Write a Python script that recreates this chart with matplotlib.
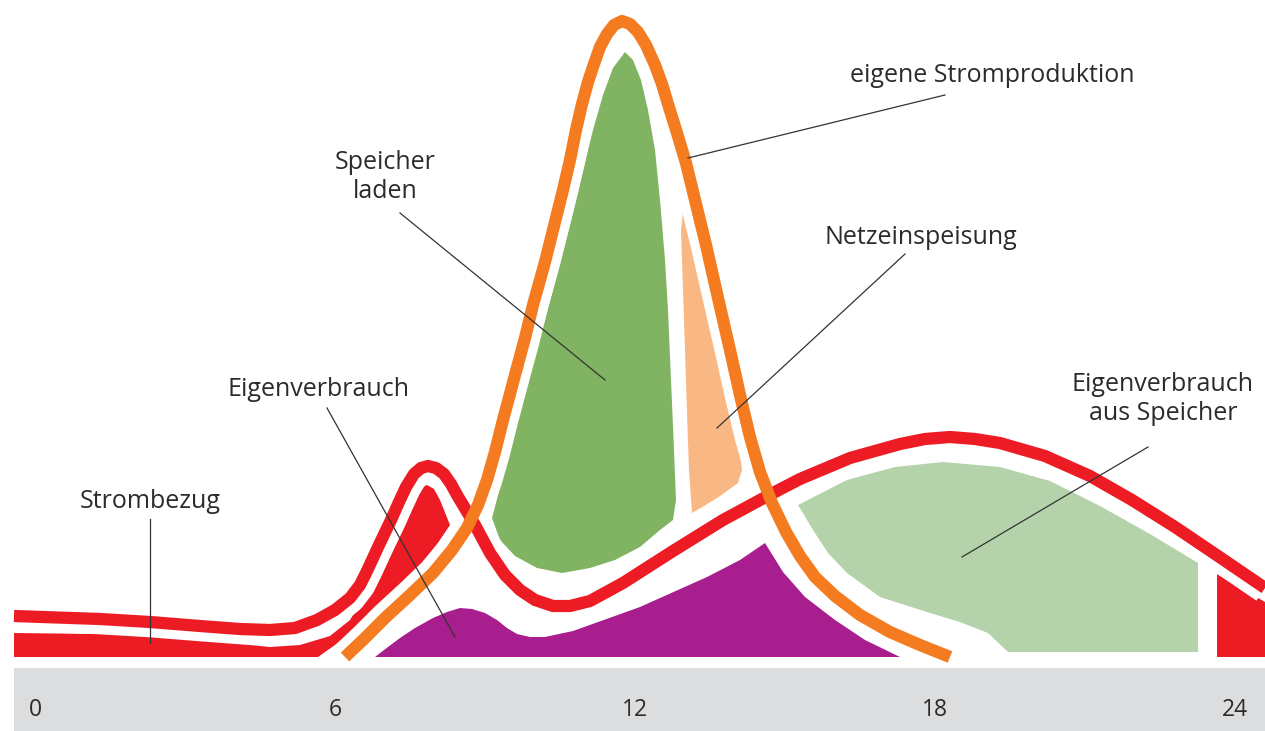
import matplotlib
matplotlib.use("Agg")
import matplotlib.pyplot as plt

plt.rcParams["font.family"] = ["Open Sans", "DejaVu Sans"]

# =========================================================
# DATA  (x = hour of day, y = power, arbitrary units)
# =========================================================

tick_hours = [0, 6, 12, 18, 24]
tick_labels = ["0", "6", "12", "18", "24"]

# eigene Stromproduktion (orange curve)
prod_h = [6.20, 6.60, 7.00, 7.50, 7.96, 8.34, 8.64, 8.86, 9.04, 9.20, 9.36,
          9.60, 9.80, 9.96, 10.20, 10.40, 10.56, 10.70, 10.82, 10.94, 11.06,
          11.18, 11.30, 11.44, 11.58, 11.74, 11.90, 12.06, 12.22, 12.40, 12.54,
          12.66, 12.84, 13.02, 13.20, 13.42, 13.66, 13.90, 14.10, 14.30, 14.50,
          14.74, 15.02, 15.30, 15.60, 16.00, 16.50, 17.10, 17.70, 18.30]
prod_kw = [0.00, 0.19, 0.39, 0.62, 0.84, 1.07, 1.29, 1.52, 1.77, 2.05, 2.37,
           2.82, 3.19, 3.52, 3.95, 4.35, 4.67, 4.97, 5.27, 5.53, 5.75,
           5.93, 6.10, 6.23, 6.32, 6.36, 6.33, 6.25, 6.12, 5.92, 5.73,
           5.53, 5.24, 4.94, 4.57, 4.12, 3.59, 3.07, 2.62, 2.20, 1.85,
           1.54, 1.25, 1.01, 0.80, 0.61, 0.42, 0.25, 0.12, 0.00]

# Verbrauch (red curve)
cons_h = [-0.42, 1.30, 2.30, 3.30, 4.10, 4.70, 5.20, 5.64, 6.00, 6.30, 6.50,
          6.64, 6.88, 7.12, 7.28, 7.42, 7.58, 7.72, 7.86, 8.02, 8.18, 8.32,
          8.44, 8.62, 8.80, 9.10, 9.40, 9.70, 10.00, 10.36, 10.70, 11.10,
          11.76, 12.76, 13.76, 14.76, 15.30, 16.30, 17.30, 17.80, 18.30, 18.80,
          19.30, 20.20, 21.10, 21.94, 22.80, 23.66, 24.60]
cons_kw = [0.41, 0.38, 0.35, 0.31, 0.28, 0.27, 0.29, 0.37, 0.47, 0.59, 0.72,
           0.86, 1.12, 1.37, 1.55, 1.70, 1.83, 1.89, 1.91, 1.89, 1.83, 1.73,
           1.62, 1.47, 1.32, 1.04, 0.82, 0.67, 0.57, 0.51, 0.51, 0.56,
           0.74, 1.06, 1.37, 1.64, 1.78, 1.99, 2.13, 2.18, 2.20, 2.18,
           2.14, 2.01, 1.81, 1.57, 1.30, 1.01, 0.69]

# Strombezug morgens (red area)
bezug_am_h = [-0.42, 1.30, 2.30, 3.30, 4.70, 5.30, 5.90, 6.30, 6.60, 6.90, 7.20,
              7.50, 7.70, 7.84, 7.98, 8.10, 8.30, 7.90, 7.50, 7.00, 6.50, 6.00,
              5.66, -0.42]
bezug_am_kw = [0.24, 0.23, 0.21, 0.17, 0.10, 0.12, 0.21, 0.37, 0.62, 0.97, 1.32,
               1.59, 1.69, 1.72, 1.68, 1.57, 1.32, 1.02, 0.80, 0.55, 0.32, 0.12,
               0.00, 0.00]

# Strombezug abends (red area)
bezug_pm_h = [23.64, 24.60, 24.60, 23.64]
bezug_pm_kw = [0.83, 0.55, 0.00, 0.00]

# Eigenverbrauch (purple area)
eigen_h = [6.80, 7.06, 7.30, 7.60, 7.96, 8.24, 8.50, 8.74, 9.00, 9.24, 9.44,
           9.64, 9.90, 10.20, 10.76, 12.10, 13.44, 14.10, 14.60, 14.96, 15.40,
           16.00, 16.60, 17.30]
eigen_kw = [0.00, 0.10, 0.19, 0.29, 0.39, 0.45, 0.49, 0.48, 0.44, 0.37, 0.29,
            0.23, 0.20, 0.20, 0.26, 0.50, 0.80, 0.97, 1.14, 0.85, 0.60,
            0.37, 0.17, 0.00]

# Speicher laden (green area)
laden_h = [11.80, 11.96, 12.12, 12.26, 12.40, 12.50, 12.60, 12.66, 12.72, 12.78,
           12.82, 12.76, 12.50, 12.10, 11.60, 11.10, 10.54, 10.04, 9.60, 9.30,
           9.14, 9.34, 9.60, 9.90, 10.20, 10.44, 10.70, 10.94, 11.16, 11.36, 11.56]
laden_kw = [6.05, 5.97, 5.77, 5.47, 5.07, 4.57, 3.97, 3.47, 2.77, 2.07,
            1.57, 1.37, 1.27, 1.10, 0.97, 0.89, 0.84, 0.89, 1.01, 1.17,
            1.39, 1.77, 2.27, 2.87, 3.37, 3.82, 4.32, 4.82, 5.27, 5.62, 5.89]

# Netzeinspeisung (salmon area)
einsp_h = [12.96, 13.06, 13.18, 13.32, 13.48, 13.64, 13.80, 13.96, 14.08, 14.14,
           14.06, 13.70, 13.38, 13.14, 13.08, 13.04, 13.00, 12.96, 12.92]
einsp_kw = [4.45, 4.39, 4.12, 3.77, 3.44, 3.10, 2.77, 2.44, 2.12, 1.87,
            1.74, 1.61, 1.51, 1.44, 1.87, 2.44, 3.07, 3.67, 4.27]

# Eigenverbrauch aus Speicher (light green area)
speicher_h = [15.26, 16.24, 17.20, 18.16, 19.30, 20.30, 21.30, 22.30, 23.26, 23.26,
              19.46, 19.06, 18.50, 17.90, 16.90, 16.24, 15.86, 15.56]
speicher_kw = [1.52, 1.77, 1.90, 1.95, 1.90, 1.76, 1.51, 1.23, 0.94, 0.05,
               0.05, 0.24, 0.35, 0.44, 0.60, 0.84, 1.04, 1.27]

# labels: text, anchor of text, leader start, leader end
labels = ["eigene Stromproduktion", "Speicher\nladen", "Netzeinspeisung",
          "Eigenverbrauch", "Eigenverbrauch\naus Speicher", "Strombezug"]
label_pos = [(19.14, 5.82), (7.00, 4.80), (17.72, 4.19),
             (5.68, 2.67), (22.56, 2.58), (2.30, 1.55)]
leader_from = [(18.20, 5.62), (7.30, 4.44), (17.40, 4.03),
               (5.84, 2.49), (22.26, 2.10), (2.30, 1.38)]
leader_to = [(13.06, 4.99), (11.40, 2.77), (13.64, 2.29),
             (8.40, 0.20), (18.54, 1.00), (2.30, 0.14)]

# =========================================================
# STYLE
# =========================================================

RED = "#ED1C24"
ORANGE = "#F47B20"
GREEN = "#80B463"
SALMON = "#F9B784"
PURPLE = "#A81E8F"
LIGHTGREEN = "#B5D3AA"
BAND = "#DCDDDE"
TEXT = "#2B2B2B"

LW = 8.8      # ~12 px
HALO = 22.0   # white gap around the curves

# =========================================================
# PLOT
# =========================================================

fig = plt.figure(figsize=(12.65, 7.31), dpi=100)
ax = fig.add_axes([0, 0, 1, 1])
ax.set_xlim(-0.70, 24.60)
ax.set_ylim(-0.74, 6.57)
ax.set_axis_off()

# areas
ax.fill(bezug_am_h, bezug_am_kw, color=RED, lw=0, zorder=1)
ax.fill(bezug_pm_h, bezug_pm_kw, color=RED, lw=0, zorder=1)
ax.fill(eigen_h, eigen_kw, color=PURPLE, lw=0, zorder=1)
ax.fill(laden_h, laden_kw, color=GREEN, lw=0, zorder=1)
ax.fill(einsp_h, einsp_kw, color=SALMON, lw=0, zorder=1)
ax.fill(speicher_h, speicher_kw, color=LIGHTGREEN, lw=0, zorder=1)

# white halos, then the curves (orange on top of red)
ax.plot(cons_h, cons_kw, color="white", lw=HALO, solid_joinstyle="round",
        solid_capstyle="butt", zorder=2)
ax.plot(prod_h, prod_kw, color="white", lw=HALO, solid_joinstyle="round",
        solid_capstyle="butt", zorder=2)

# time axis band
ax.fill_between([-0.42, 24.60], -0.74, -0.11, color=BAND, lw=0, zorder=3)

ax.plot(cons_h, cons_kw, color=RED, lw=LW, solid_joinstyle="round",
        solid_capstyle="butt", zorder=4)
ax.plot(prod_h, prod_kw, color=ORANGE, lw=LW, solid_joinstyle="round",
        solid_capstyle="butt", zorder=5)

for h, lab in zip(tick_hours, tick_labels):
    ax.text(h, -0.53, lab, ha="center", va="center", fontsize=16.5,
            color=TEXT, zorder=6)

# leader lines and labels
for lab, pos, p0, p1 in zip(labels, label_pos, leader_from, leader_to):
    ax.plot([p0[0], p1[0]], [p0[1], p1[1]], color="#333333", lw=0.9, zorder=6)
    ax.text(pos[0], pos[1], lab, ha="center", va="center", fontsize=18,
            color=TEXT, linespacing=1.2, multialignment="center", zorder=6)

fig.savefig("out.png", dpi=100)
plt.close("all")
